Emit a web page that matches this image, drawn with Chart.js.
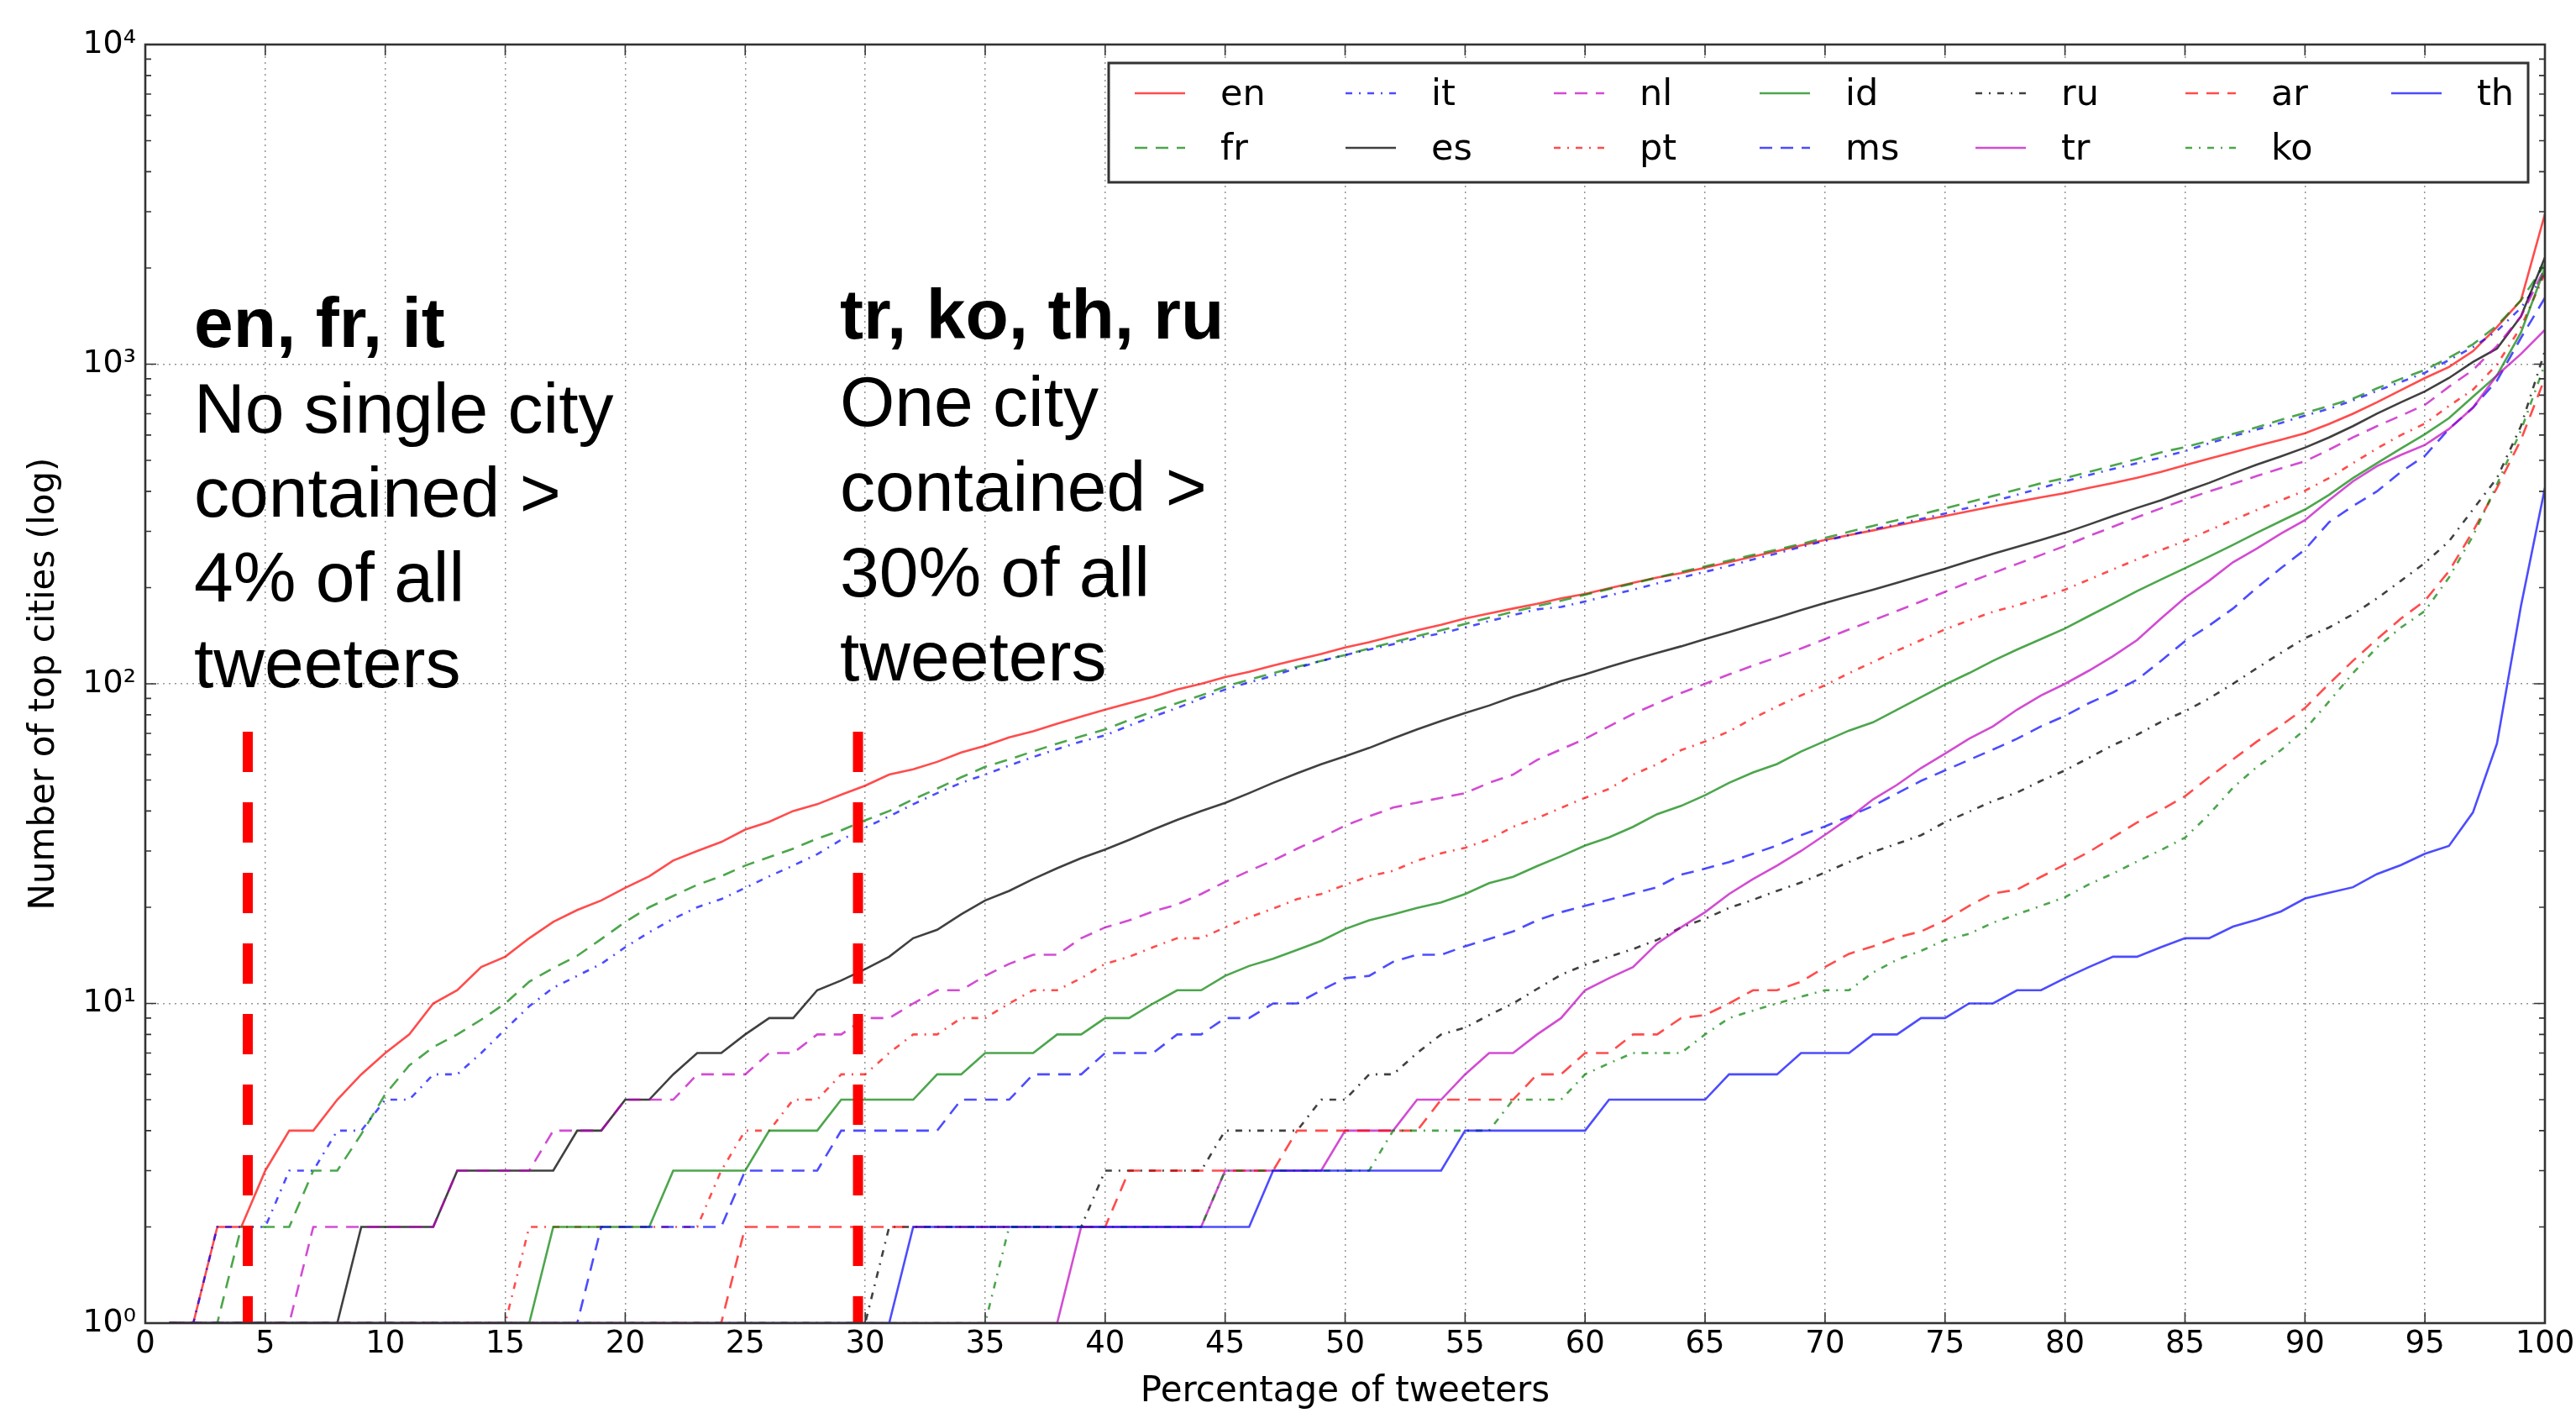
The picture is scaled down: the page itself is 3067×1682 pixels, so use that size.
<!DOCTYPE html>
<html>
<head>
<meta charset="utf-8">
<script src="https://cdn.jsdelivr.net/npm/chart.js@4.4.1/dist/chart.umd.min.js"></script>
<style>
html,body{margin:0;padding:0;background:#fff;}
canvas{display:block;}
</style>
</head>
<body>
<canvas id="c" width="3067" height="1682" style="width:3067px;height:1682px"></canvas>
<script>
// ---------------- DATA ----------------
const pct = [1,2,3,4,5,6,7,8,9,10,11,12,13,14,15,16,17,18,19,20,
  21,22,23,24,25,26,27,28,29,30,31,32,33,34,35,36,37,38,39,40,
  41,42,43,44,45,46,47,48,49,50,51,52,53,54,55,56,57,58,59,60,
  61,62,63,64,65,66,67,68,69,70,71,72,73,74,75,76,77,78,79,80,
  81,82,83,84,85,86,87,88,89,90,91,92,93,94,95,96,97,98,99,100];

const en = [1,1,2,2,3,4,4,5,6,7,
  8,10,11,13,14,16,18,19.6,21,23,
  25,28,30,32,35,37,40,42,45,48,
  52,54,57,61,64,68,71,75,79,83,
  87,91,96,100,105,109,114,119,124,130,
  135,141,147,153,160,166,172,178,185,191,
  199,207,215,222,231,240,250,260,271,282,
  292,302,313,324,335,347,359,371,383,395,
  410,425,441,460,483,506,530,555,580,608,
  650,700,760,830,905,980,1098,1306,1584,2950];

const fr = [1,1,1,2,2,2,3,3,3.9,5.2,
  6.4,7.3,8,8.9,10,11.7,12.9,14.1,15.9,18,
  20,21.7,23.5,25,27,28.7,30.5,32.8,34.8,37.4,
  40,43.5,47,51,55,58,61.5,65,68.5,72,
  77,82,87,92,98,103,108,113,118,123,
  129,135,141,147,154,161,168,175,182,190,
  198,206,215,224,233,243,253,263,274,286,
  299,312,325,339,354,370,387,405,424,440,
  460,482,505,530,550,575,605,635,670,704,
  740,780,840,900,960,1047,1154,1320,1584,2050];

const it = [1,1,2,2,2,3,3,4,4,5,
  5,6,6,7,8.3,9.8,11.2,12.2,13.3,15,
  16.7,18.4,20,21.2,23,25,27,29.3,32.5,35.5,
  38.5,42,45.5,49,52,55.5,59,62.5,66,69,
  74,79,84,90,96,101,106,112,118,123,
  128,133,139,144,150,157,164,171,174,181,
  189,197,206,215,224,234,245,256,268,280,
  292,304,316,328,341,356,372,390,410,430,
  450,470,490,510,535,565,595,625,655,690,
  725,770,825,880,940,1030,1130,1270,1500,1920];

const es = [1,1,1,1,1,1,1,1,2,2,
  2,2,3,3,3,3,3,4,4,5,
  5,6,7,7,8,9,9,11,11.8,12.8,
  14,16,17,19,21,22.5,24.5,26.5,28.5,30.3,
  32.5,35,37.5,40,42.4,45.5,49,52.5,56,59.3,
  63,67.5,72,76.5,81,85.5,91,96,102,107,
  113,119,125,131,138,145,153,161,170,179,
  188,197,207,218,229,242,255,268,282,297,
  315,335,355,375,400,425,455,485,515,548,
  590,640,700,760,822,905,1016,1119,1410,2157];

const nl = [1,1,1,1,1,1,2,2,2,2,
  2,2,3,3,3,3,4,4,4,5,
  5,5,6,6,6,7,7,8,8,9,
  9,10,11,11,12.2,13.3,14.2,14.2,16,17.3,
  18.2,19.4,20.4,22,24,26,28,30.5,33,36,
  38.5,41,42.5,44,45.5,49,52,57.8,62.4,67.3,
  73.6,80.5,86.9,93.6,100,107,114,121,129,138,
  148,158,169,181,194,208,222,237,253,270,
  290,310,332,354,377,400,422,447,472,497,
  540,590,640,690,746,850,959,1140,1410,2000];

const pt = [1,1,1,1,1,1,1,1,1,1,
  1,1,1,1,1,2,2,2,2,2,
  2,2,2,3,4,4,5,5,6,6,
  7,8,8,9,9,10,11,11,12,13.3,
  14,15,16,16,17.3,18.6,19.8,21.2,22,23.5,
  25,26,28,29.5,30.7,32.6,35.7,38,40.9,44,
  46.9,52,56,62,66,71,78,85,92,99,
  108,117,127,137,148,158,168,176,186,197,
  212,228,245,262,280,302,325,350,375,402,
  440,490,545,600,652,740,832,997,1306,1920];

const id = [1,1,1,1,1,1,1,1,1,1,
  1,1,1,1,1,1,2,2,2,2,
  2,3,3,3,3,4,4,4,5,5,
  5,5,6,6,7,7,7,8,8,9,
  9,10,11,11,12.2,13.1,13.8,14.7,15.7,17.1,
  18.2,19,19.9,20.7,22,23.8,24.9,26.9,28.9,31.2,
  33.1,35.7,39.1,41.5,44.8,49,52.8,56.1,61.4,66.2,
  71.4,75.8,83,90.8,99.5,108,118,128,138,149,
  163,178,195,212,230,250,272,297,323,351,
  390,440,490,545,604,678,791,922,1256,2000];

const ms = [1,1,1,1,1,1,1,1,1,1,
  1,1,1,1,1,1,1,1,2,2,
  2,2,2,2,3,3,3,3,4,4,
  4,4,4,5,5,5,6,6,6,7,
  7,7,8,8,9,9,10,10,11,12,
  12.2,13.5,14.2,14.2,15.1,15.9,16.8,18.2,19.3,20.2,
  21.1,22.1,23.1,25.3,26.4,27.7,29.4,31.2,33.6,35.8,
  38.5,41.5,45.4,49.7,53.6,57.8,62.3,67.3,73.6,79.4,
  87,94,103,118,136,152,172,200,230,263,
  320,360,400,460,517,627,731,888,1208,1614];

const ru = [1,1,1,1,1,1,1,1,1,1,
  1,1,1,1,1,1,1,1,1,1,
  1,1,1,1,1,1,1,1,1,1,
  2,2,2,2,2,2,2,2,2,3,
  3,3,3,3,4,4,4,4,5,5,
  6,6,7,8,8.4,9.2,10,11.1,12.3,13.2,
  14,14.8,15.8,17.3,18.4,19.9,21.1,22.5,23.9,25.7,
  27.7,29.8,31.6,33.6,36.9,39.8,43,45.7,49.7,53.6,
  58.7,64.3,69.3,76,82,90,100,112,125,139,
  150,165,185,210,239,279,351,440,640,1100];

const tr = [1,1,1,1,1,1,1,1,1,1,
  1,1,1,1,1,1,1,1,1,1,
  1,1,1,1,1,1,1,1,1,1,
  1,1,1,1,1,1,1,1,2,2,
  2,2,2,2,3,3,3,3,3,4,
  4,4,5,5,6,7,7,8,9,11,
  12,13,15.4,17.3,19.3,22,24.5,27,30,33.7,
  38,43.5,48.3,54.5,60.5,67.3,73.6,83,92,100,
  110,122,137,160,186,210,240,265,295,325,
  375,430,480,520,559,627,731,923,1076,1280];

const ar = [1,1,1,1,1,1,1,1,1,1,
  1,1,1,1,1,1,1,1,1,1,
  1,1,1,1,2,2,2,2,2,2,
  2,2,2,2,2,2,2,2,2,2,
  3,3,3,3,3,3,3,4,4,4,
  4,4,4,5,5,5,5,6,6,7,
  7,8,8,9,9.2,10,11,11,11.7,13,
  14.3,15.1,16.1,16.8,18.2,20.2,22.1,22.7,24.9,27.2,
  29.8,33.1,36.8,40.3,44.5,51,58,66,74,84,
  100,118,138,160,182,225,300,410,580,905];

const ko = [1,1,1,1,1,1,1,1,1,1,
  1,1,1,1,1,1,1,1,1,1,
  1,1,1,1,1,1,1,1,1,1,
  1,1,1,1,1,2,2,2,2,2,
  2,2,2,2,3,3,3,3,3,3,
  3,4,4,4,4,4,5,5,5,6,
  6.5,7,7,7,8,9,9.5,10,10.5,11,
  11,12.5,13.7,14.6,15.8,16.5,17.9,19,20.2,21.5,
  23.6,25.5,27.8,30.2,33,39,47.3,55,62,72,
  88,108,130,150,169,215,290,420,620,1000];

const th = [1,1,1,1,1,1,1,1,1,1,
  1,1,1,1,1,1,1,1,1,1,
  1,1,1,1,1,1,1,1,1,1,
  1,2,2,2,2,2,2,2,2,2,
  2,2,2,2,2,2,3,3,3,3,
  3,3,3,3,4,4,4,4,4,4,
  5,5,5,5,5,6,6,6,7,7,
  7,8,8,9,9,10,10,11,11,12,
  13,14,14,15,16,16,17.4,18.3,19.4,21.3,
  22.2,23.1,25.4,27.1,29.4,31.1,39.6,65,175,410];

const seriesNames = ['en','fr','it','es','nl','pt','id','ms','ru','tr','ar','ko','th'];
const seriesValues = [en,fr,it,es,nl,pt,id,ms,ru,tr,ar,ko,th];

const xTicks = [0,5,10,15,20,25,30,35,40,45,50,55,60,65,70,75,80,85,90,95,100];
const yTickValues = [1,10,100,1000,10000];
const yTickLabels = ['10⁰','10¹','10²','10³','10⁴'];

const markerX = [4.27, 29.7];      // red dashed annotation lines
const markerTop = 70.8;
const markerBottom = 1;

const xTitle = 'Percentage of tweeters';
const yTitle = 'Number of top cities (log)';

const note1 = ['en, fr, it','No single city','contained >','4% of all','tweeters'];
const note2 = ['tr, ko, th, ru','One city','contained >','30% of all','tweeters'];

// ---------------- STYLE ----------------
const colorCycle = ['rgba(255,0,0,0.7)','rgba(0,128,0,0.7)','rgba(0,0,255,0.7)','rgba(0,0,0,0.75)','rgba(191,0,191,0.7)'];
const dashCycle = [[], [15,10], [8,8,2,8]];
const MPL_FONT = '"DejaVu Sans", sans-serif';
const NOTE_FONT = '"Liberation Sans", Arial, sans-serif';

const datasets = seriesValues.map((vals, i) => ({
  label: seriesNames[i],
  data: pct.map((x, j) => ({x: x, y: vals[j]})),
  borderColor: colorCycle[i % 5],
  borderDash: dashCycle[i % 3],
  borderWidth: 2.6,
  pointRadius: 0,
  fill: false,
  tension: 0,
  order: 20 - i
}));
markerX.forEach(mx => {
  datasets.push({
    label: '_marker',
    data: [{x: mx, y: markerTop}, {x: mx, y: markerBottom}],
    borderColor: '#ff0000',
    borderWidth: 12,
    borderDash: [48, 36],
    borderCapStyle: 'butt',
    pointRadius: 0,
    fill: false,
    order: 0
  });
});

// ---------------- PLUGINS ----------------
const framePlugin = {
  id: 'frame',
  afterDatasetsDraw(chart) {
    const {ctx, chartArea: a, scales} = chart;
    ctx.save();
    ctx.strokeStyle = '#333';
    ctx.lineWidth = 1.6;
    for (let d = 0; d < 4; d++) {
      for (let m = 1; m <= 9; m++) {
        const v = m * Math.pow(10, d);
        const y = scales.y.getPixelForValue(v);
        const len = (m === 1) ? 13 : 7;
        ctx.beginPath();
        ctx.moveTo(a.left, y); ctx.lineTo(a.left + len, y);
        ctx.moveTo(a.right, y); ctx.lineTo(a.right - len, y);
        ctx.stroke();
      }
    }
    xTicks.forEach(v => {
      const x = scales.x.getPixelForValue(v);
      ctx.beginPath();
      ctx.moveTo(x, a.bottom); ctx.lineTo(x, a.bottom - 13);
      ctx.moveTo(x, a.top); ctx.lineTo(x, a.top + 13);
      ctx.stroke();
    });
    ctx.lineWidth = 2.6;
    ctx.strokeStyle = '#333';
    ctx.strokeRect(a.left, a.top, a.right - a.left, a.bottom - a.top);
    ctx.restore();
  }
};

const legendPlugin = {
  id: 'mplLegend',
  afterDraw(chart) {
    const ctx = chart.ctx;
    ctx.save();
    ctx.fillStyle = '#ffffff';
    ctx.fillRect(1320, 75, 1690, 142);
    ctx.strokeStyle = '#333';
    ctx.lineWidth = 3;
    ctx.strokeRect(1320, 75, 1690, 142);
    const colX = [1351, 1602, 1850, 2095, 2352, 2602, 2847];
    const rowY = [111, 176];
    ctx.font = '43px ' + MPL_FONT;
    ctx.textBaseline = 'alphabetic';
    ctx.textAlign = 'left';
    seriesNames.forEach((name, i) => {
      const col = Math.floor(i / 2), row = i % 2;
      const ds = chart.data.datasets[i];
      const x0 = colX[col], y0 = rowY[row];
      ctx.save();
      ctx.strokeStyle = ds.borderColor;
      ctx.lineWidth = ds.borderWidth;
      ctx.setLineDash(ds.borderDash || []);
      ctx.beginPath();
      ctx.moveTo(x0, y0); ctx.lineTo(x0 + 60, y0);
      ctx.stroke();
      ctx.restore();
      ctx.fillStyle = '#000';
      ctx.fillText(name, x0 + 102, y0 + 14);
    });
    ctx.restore();
  }
};

const notePlugin = {
  id: 'notes',
  afterDraw(chart) {
    const ctx = chart.ctx;
    ctx.save();
    ctx.fillStyle = '#000';
    ctx.textAlign = 'left';
    ctx.textBaseline = 'alphabetic';
    const base1 = [413, 515, 615, 716, 818];
    const base2 = [403, 507, 608, 710, 810];
    note1.forEach((t, k) => {
      ctx.font = (k === 0 ? 'bold ' : '') + '84px ' + NOTE_FONT;
      ctx.fillText(t, 231, base1[k]);
    });
    note2.forEach((t, k) => {
      ctx.font = (k === 0 ? 'bold ' : '') + '84px ' + NOTE_FONT;
      ctx.fillText(t, 1000, base2[k]);
    });
    ctx.restore();
  }
};

// ---------------- CHART ----------------
const gridOpts = { color: 'rgba(0,0,0,0.42)', lineWidth: 1.5, drawTicks: false };

new Chart(document.getElementById('c').getContext('2d'), {
  type: 'line',
  data: { datasets },
  options: {
    responsive: false,
    animation: false,
    devicePixelRatio: 1,
    layout: { padding: { left: 0, right: 37, top: 53, bottom: 0 } },
    plugins: { legend: { display: false }, tooltip: { enabled: false } },
    scales: {
      x: {
        type: 'linear', min: 0, max: 100,
        afterBuildTicks: s => { s.ticks = xTicks.map(v => ({value: v})); },
        ticks: { autoSkip: false, maxRotation: 0, padding: 7, color: '#000',
                 font: { family: MPL_FONT, size: 37, lineHeight: 1 } },
        grid: gridOpts,
        border: { display: false, dash: [2, 5] },
        title: { display: true, text: xTitle, color: '#000',
                 font: { family: MPL_FONT, size: 42, lineHeight: 1 },
                 padding: { top: 0, bottom: 4 } },
        afterFit: s => { s.height = 107; s.paddingLeft = 0; s.paddingRight = 0; }
      },
      y: {
        type: 'logarithmic', min: 1, max: 10000,
        afterBuildTicks: s => { s.ticks = yTickValues.map(v => ({value: v})); },
        ticks: { padding: 11, color: '#000',
                 font: { family: MPL_FONT, size: 38, lineHeight: 1 },
                 callback: (v, i) => yTickLabels[i] },
        grid: gridOpts,
        border: { display: false, dash: [2, 5] },
        title: { display: true, text: yTitle, color: '#000',
                 font: { family: MPL_FONT, size: 42, lineHeight: 1 },
                 padding: { top: 32, bottom: 0 } },
        afterFit: s => { s.width = 173; s.paddingTop = 0; s.paddingBottom = 0; }
      }
    }
  },
  plugins: [framePlugin, legendPlugin, notePlugin]
});
</script>
</body>
</html>
